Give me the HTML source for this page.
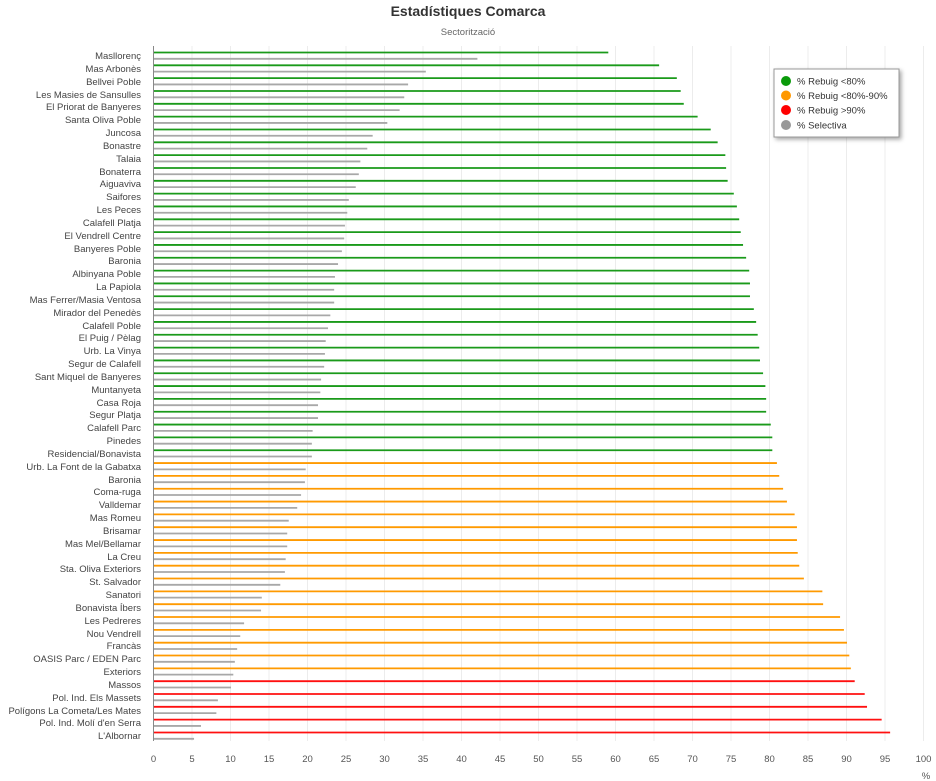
<!DOCTYPE html>
<html><head><meta charset="utf-8"><style>
body{margin:0;background:#fff;}
svg{display:block;font-family:"Liberation Sans",sans-serif;}
</style></head><body>
<svg id="s" width="936" height="781" viewBox="0 0 936 781">
<text x="468" y="16" text-anchor="middle" font-size="14" font-weight="bold" fill="#333">Estadístiques Comarca</text>
<text x="468" y="35" text-anchor="middle" font-size="9.5" fill="#666">Sectorització</text>
<g id="grid"></g>
<g id="bars"></g>
<line x1="153.5" y1="46" x2="153.5" y2="741" stroke="#888" stroke-width="1"/>
<g font-size="9.5" fill="#555" text-anchor="middle">
<text x="153.5" y="762">0</text><text x="192" y="762">5</text><text x="230.5" y="762">10</text><text x="269" y="762">15</text><text x="307.5" y="762">20</text><text x="346" y="762">25</text><text x="384.5" y="762">30</text><text x="423" y="762">35</text><text x="461.5" y="762">40</text><text x="500" y="762">45</text><text x="538.5" y="762">50</text><text x="577" y="762">55</text><text x="615.5" y="762">60</text><text x="654" y="762">65</text><text x="692.5" y="762">70</text><text x="731" y="762">75</text><text x="769.5" y="762">80</text><text x="808" y="762">85</text><text x="846.5" y="762">90</text><text x="885" y="762">95</text><text x="923.5" y="762">100</text>
<text x="926" y="779">%</text>
</g>
<g font-size="9.5" fill="#444" text-anchor="end">
<text x="141" y="59">Masllorenç</text>
<text x="141" y="72">Mas Arbonès</text>
<text x="141" y="85">Bellvei Poble</text>
<text x="141" y="98">Les Masies de Sansulles</text>
<text x="141" y="110">El Priorat de Banyeres</text>
<text x="141" y="123">Santa Oliva Poble</text>
<text x="141" y="136">Juncosa</text>
<text x="141" y="149">Bonastre</text>
<text x="141" y="162">Talaia</text>
<text x="141" y="175">Bonaterra</text>
<text x="141" y="187">Aiguaviva</text>
<text x="141" y="200">Saifores</text>
<text x="141" y="213">Les Peces</text>
<text x="141" y="226">Calafell Platja</text>
<text x="141" y="239">El Vendrell Centre</text>
<text x="141" y="252">Banyeres Poble</text>
<text x="141" y="264">Baronia</text>
<text x="141" y="277">Albinyana Poble</text>
<text x="141" y="290">La Papiola</text>
<text x="141" y="303">Mas Ferrer/Masia Ventosa</text>
<text x="141" y="316">Mirador del Penedès</text>
<text x="141" y="329">Calafell Poble</text>
<text x="141" y="341">El Puig / Pèlag</text>
<text x="141" y="354">Urb. La Vinya</text>
<text x="141" y="367">Segur de Calafell</text>
<text x="141" y="380">Sant Miquel de Banyeres</text>
<text x="141" y="393">Muntanyeta</text>
<text x="141" y="406">Casa Roja</text>
<text x="141" y="418">Segur Platja</text>
<text x="141" y="431">Calafell Parc</text>
<text x="141" y="444">Pinedes</text>
<text x="141" y="457">Residencial/Bonavista</text>
<text x="141" y="470">Urb. La Font de la Gabatxa</text>
<text x="141" y="483">Baronia</text>
<text x="141" y="495">Coma-ruga</text>
<text x="141" y="508">Valldemar</text>
<text x="141" y="521">Mas Romeu</text>
<text x="141" y="534">Brisamar</text>
<text x="141" y="547">Mas Mel/Bellamar</text>
<text x="141" y="560">La Creu</text>
<text x="141" y="572">Sta. Oliva Exteriors</text>
<text x="141" y="585">St. Salvador</text>
<text x="141" y="598">Sanatori</text>
<text x="141" y="611">Bonavista Íbers</text>
<text x="141" y="624">Les Pedreres</text>
<text x="141" y="637">Nou Vendrell</text>
<text x="141" y="649">Francàs</text>
<text x="141" y="662">OASIS Parc / EDEN Parc</text>
<text x="141" y="675">Exteriors</text>
<text x="141" y="688">Massos</text>
<text x="141" y="701">Pol. Ind. Els Massets</text>
<text x="141" y="714">Polígons La Cometa/Les Mates</text>
<text x="141" y="726">Pol. Ind. Molí d'en Serra</text>
<text x="141" y="739">L'Albornar</text>
</g>
<rect x="774" y="69" width="125" height="68" fill="#fff" stroke="#999" stroke-width="1" style="filter:drop-shadow(2px 2px 2px rgba(0,0,0,0.35))"/>
<g font-size="9.5" fill="#333">
<circle cx="786" cy="81" r="5" fill="#0a9a0a"/><text x="797" y="84.5">% Rebuig &lt;80%</text>
<circle cx="786" cy="95.5" r="5" fill="#ff9800"/><text x="797" y="99">% Rebuig &lt;80%-90%</text>
<circle cx="786" cy="110" r="5" fill="#ff0000"/><text x="797" y="113.5">% Rebuig &gt;90%</text>
<circle cx="786" cy="125" r="5" fill="#999"/><text x="797" y="128.5">% Selectiva</text>
</g>
</svg>
<script>
var ns="http://www.w3.org/2000/svg";
function L(g,x1,y1,x2,y2,c,w){var l=document.createElementNS(ns,"line");l.setAttribute("x1",x1);l.setAttribute("y1",y1);l.setAttribute("x2",x2);l.setAttribute("y2",y2);l.setAttribute("stroke",c);l.setAttribute("stroke-width",w);document.getElementById(g).appendChild(l);}
for(var i=1;i<=20;i++){var x=153.5+i*38.5;L("grid",x,46,x,741,"#ececec",1);}
var r=[59,65.6,67.9,68.4,68.8,70.6,72.3,73.2,74.2,74.3,74.5,75.3,75.7,76,76.2,76.5,76.9,77.3,77.4,77.4,77.9,78.2,78.4,78.6,78.7,79.1,79.4,79.5,79.5,80.1,80.3,80.3,80.9,81.2,81.7,82.2,83.2,83.5,83.5,83.6,83.8,84.4,86.8,86.9,89.1,89.6,90,90.3,90.5,91,92.3,92.6,94.5,95.6];
var s=[42,35.3,33,32.5,31.9,30.3,28.4,27.7,26.8,26.6,26.2,25.3,25.1,24.8,24.7,24.4,23.9,23.5,23.4,23.4,22.9,22.6,22.3,22.2,22.1,21.7,21.6,21.3,21.3,20.6,20.5,20.5,19.7,19.6,19.1,18.6,17.5,17.3,17.3,17.1,17,16.4,14,13.9,11.7,11.2,10.8,10.5,10.3,10,8.3,8.1,6.1,5.2];
for(var i=0;i<54;i++){var y=52.5+i*12.83;var c=i<32?"#1a9a1a":(i<49?"#ff9a00":"#ff1010");
L("bars",154,y,154+r[i]*7.7,y,c,1.8);L("bars",154,y+6.3,154+s[i]*7.7,y+6.3,"#a8a8a8",1.8);}
</script>
</body></html>
